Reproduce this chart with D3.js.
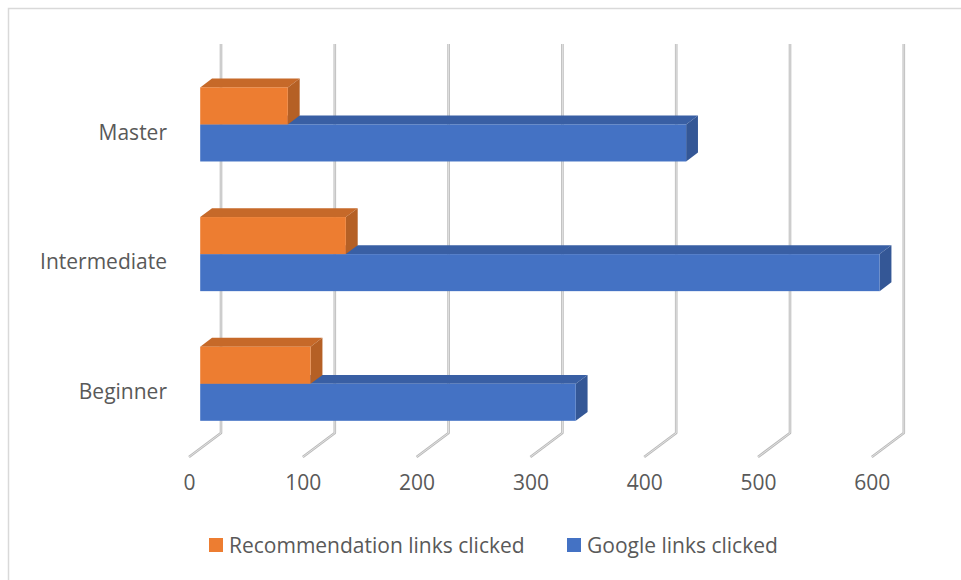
<!DOCTYPE html>
<html>
<head>
<meta charset="utf-8">
<script src="https://cdn.jsdelivr.net/npm/d3@7"></script>
<style>
  html, body { margin: 0; padding: 0; background: #ffffff; }
  svg { display: block; font-family: "Open Sans", "Noto Sans", sans-serif; }
</style>
</head>
<body>
<svg id="chart" width="961" height="580"></svg>
<script>
// Link clicks per learner level
const categories = ["Beginner", "Intermediate", "Master"];
const recommendationClicks = [97, 128, 77];
const googleClicks = [330, 597, 427];
const seriesNames = ["Recommendation links clicked", "Google links clicked"];
const seriesColors = ["#ED7D31", "#4472C4"];
const xTicks = [0, 100, 200, 300, 400, 500, 600];

const svg = d3.select("#chart");

// Oblique 3D frame: front-left floor corner, depth vector, wall height
const origin = { x: 189, y: 457 };
const depth = { x: 32, y: -24 };
const wallHeight = 389;
const barDepth = [0.35, 0.72];

const x = d3.scaleLinear().domain([0, 600]).range([0, 682.8]);
// heights above the floor for each category band
const band = d3.scaleBand().domain(categories).range([0, wallHeight])
  .paddingInner(1.5 / 3.5).paddingOuter(0.75 / 3.5);
const sub = d3.scaleBand().domain(["google", "recommendation"]).range([0, band.bandwidth()]);

// value, height above floor, depth fraction -> screen point
function proj(v, h, f) {
  return [origin.x + x(v) + depth.x * f, origin.y - h + depth.y * f];
}

// border of the chart area
svg.append("rect")
  .attr("x", 8.5).attr("y", 8.5).attr("width", 970).attr("height", 590)
  .attr("fill", "none").attr("stroke", "#d9d9d9").attr("stroke-width", 1.5);

// gridlines: back wall verticals plus floor diagonals
const grid = svg.append("g").attr("fill", "none");
xTicks.forEach(v => {
  const top = proj(v, wallHeight, 1);
  const back = proj(v, 0, 1);
  const front = proj(v, 0, 0);
  const d = d3.line()([top, back, front]);
  grid.append("path").attr("d", d).attr("stroke", "#bababa").attr("stroke-width", 2.6).attr("stroke-linejoin", "round");
  grid.append("path").attr("d", d).attr("stroke", "#ebebeb").attr("stroke-width", 0.8);
});

// bars
const rows = [];
categories.forEach((c, i) => {
  rows.push({ cat: c, key: "google", value: googleClicks[i], color: seriesColors[1] });
  rows.push({ cat: c, key: "recommendation", value: recommendationClicks[i], color: seriesColors[0] });
});

const shade = (col, k) => d3.color(col).darker(k).formatHex();
const poly = pts => "M" + pts.map(p => p.join(",")).join("L") + "Z";

const bars = svg.append("g");
rows.forEach(r => {
  const h0 = band(r.cat) + sub(r.key);
  const h1 = h0 + sub.bandwidth();
  const [f0, f1] = barDepth;
  const g = bars.append("g");
  // top face
  g.append("path")
    .attr("d", poly([proj(0, h1, f0), proj(r.value, h1, f0), proj(r.value, h1, f1), proj(0, h1, f1)]))
    .attr("fill", shade(r.color, 0.5));
  // right face
  g.append("path")
    .attr("d", poly([proj(r.value, h0, f0), proj(r.value, h0, f1), proj(r.value, h1, f1), proj(r.value, h1, f0)]))
    .attr("fill", shade(r.color, 0.75));
  // front face
  const a = proj(0, h1, f0), b = proj(r.value, h0, f0);
  g.append("rect")
    .attr("x", a[0]).attr("y", a[1])
    .attr("width", b[0] - a[0]).attr("height", b[1] - a[1])
    .attr("fill", r.color);
});

// value axis labels at the front edge of the floor
const xAxis = d3.axisBottom(x).tickValues(xTicks).tickSize(0).tickPadding(0);
const xg = svg.append("g")
  .attr("transform", `translate(${origin.x},475)`)
  .call(xAxis);
xg.select(".domain").remove();
xg.selectAll("text")
  .attr("font-family", "Open Sans, sans-serif")
  .attr("font-size", 21).attr("fill", "#595959").attr("dy", "0.71em");

// category labels at the front of the floor
const yFront = d3.scaleBand().domain(categories).range([origin.y, origin.y - wallHeight])
  .paddingInner(1.5 / 3.5).paddingOuter(0.75 / 3.5);
const yAxis = d3.axisLeft(yFront).tickSize(0).tickPadding(0);
const yg = svg.append("g")
  .attr("transform", "translate(167,0)")
  .call(yAxis);
yg.select(".domain").remove();
yg.selectAll("text")
  .attr("font-family", "Open Sans, sans-serif")
  .attr("font-size", 21).attr("fill", "#595959");

// legend
const legend = svg.append("g").attr("transform", "translate(209,538)");
const legendX = [0, 358];
seriesNames.forEach((name, i) => {
  const item = legend.append("g").attr("transform", `translate(${legendX[i]},0)`);
  item.append("rect").attr("width", 14).attr("height", 14).attr("fill", seriesColors[i]);
  item.append("text")
    .attr("x", 20).attr("y", 15)
    .attr("font-size", 21).attr("fill", "#595959")
    .text(name);
});
</script>
</body>
</html>
